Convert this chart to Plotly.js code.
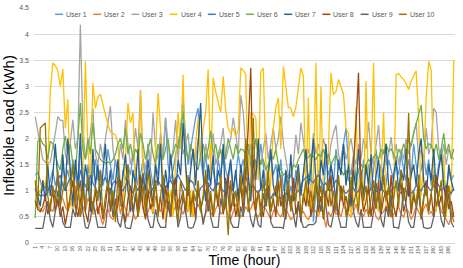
<!DOCTYPE html>
<html>
<head>
<meta charset="utf-8">
<script src="https://cdn.plot.ly/plotly-3.0.1.min.js"></script>
<style>html,body{margin:0;padding:0;background:#fff;}#chart{width:463px;height:268px;}</style>
</head>
<body>
<div id="chart"></div>
<script>
var seriesNames = ["User 1","User 2","User 3","User 4","User 5","User 6","User 7","User 8","User 9","User 10"];
var seriesColors = ["#5B9BD5","#ED7D31","#A5A5A5","#FFC000","#4472C4","#70AD47","#255E91","#9E480E","#636363","#997300"];
var xTickLabels = [1,4,7,10,13,16,19,22,25,28,31,34,37,40,43,46,49,52,55,58,61,64,67,70,73,76,79,82,85,88,91,94,97,100,103,106,109,112,115,118,121,124,127,130,133,136,139,142,145,148,151,154,157,160,163,166];
var yTickLabels = [0,0.5,1,1.5,2,2.5,3,3.5,4,4.5];

var user1 = [1.3,1.35,1.2,1.0,1.1,0.95,1.2,1.4,1.1,1.3,1.0,1.5,
 1.2,1.4,1.1,1.6,1.3,1.0,1.8,1.4,0.6,1.5,1.1,1.3,
 1.6,1.2,1.4,1.1,1.3,1.8,1.5,1.2,1.6,1.3,0.7,1.4,
 1.2,1.5,1.3,1.7,1.4,1.1,1.3,1.6,1.2,1.9,1.4,1.1,
 1.5,1.3,2.1,1.6,2.4,1.5,1.2,1.4,1.7,1.9,2.2,2.78,
 2.0,1.5,1.8,2.1,2.4,2.58,1.6,1.3,1.7,1.2,1.5,1.4,
 1.1,1.6,1.3,1.8,1.4,1.2,1.5,1.0,1.3,1.7,1.4,1.6,
 1.3,1.8,1.5,1.2,1.6,1.4,1.9,1.5,1.1,1.4,1.7,1.3,
 1.5,1.2,1.6,1.0,1.3,0.8,1.1,0.9,1.4,1.2,1.0,1.3,
 1.5,1.1,1.7,0.4,1.0,1.4,1.2,0.9,1.6,1.3,1.5,1.1,
 1.8,1.4,1.6,1.9,2.2,1.5,1.3,1.7,1.2,1.4,1.1,1.6,
 1.3,1.5,1.0,1.4,1.8,1.2,1.5,1.3,1.1,1.6,1.4,1.2,
 1.5,1.3,1.7,1.4,1.2,1.6,1.3,1.9,1.5,1.2,1.4,1.7,
 1.3,1.6,1.1,1.4,1.2,1.5,1.8,1.3,1.0,1.4,1.2,1.3];
var user2 = [0.83,0.7,0.65,0.6,0.7,0.75,0.65,0.6,0.8,0.7,0.9,0.85,
 0.7,0.6,0.75,0.9,1.1,0.65,0.5,0.7,0.6,0.85,0.75,0.55,
 0.6,0.7,0.5,0.35,0.55,0.65,0.5,0.45,0.6,0.9,0.55,0.8,
 0.65,0.5,0.7,0.6,0.45,0.55,1.0,0.65,0.5,0.6,0.75,0.55,
 0.9,0.7,0.6,0.8,0.65,0.75,0.5,0.6,0.7,0.85,0.65,0.55,
 0.7,0.6,0.8,0.5,0.65,0.75,0.6,0.45,0.55,0.7,0.6,0.5,
 0.65,0.75,0.55,0.6,0.7,0.5,0.45,0.6,0.75,0.65,0.5,0.55,
 0.7,0.6,0.65,0.8,0.55,0.5,0.6,0.7,0.65,0.55,0.45,0.6,
 0.7,0.55,0.5,0.6,0.65,0.55,0.45,0.5,0.6,0.7,0.55,0.6,
 0.5,0.45,0.55,0.65,0.6,0.5,0.7,0.55,0.3,0.6,0.5,0.65,
 0.55,0.6,0.5,0.7,0.65,0.55,0.5,0.6,0.75,0.55,0.6,0.5,
 0.65,0.55,0.6,0.7,0.5,0.45,0.55,0.6,0.7,0.65,0.5,0.55,
 0.6,0.7,0.55,0.5,0.65,0.6,0.45,0.55,0.7,0.6,0.5,0.65,
 0.75,0.55,0.6,0.5,0.7,0.8,0.6,0.55,0.45,0.35,0.5,0.6];
var user3 = [2.42,2.17,1.9,1.6,1.55,1.52,1.55,1.8,2.1,2.42,2.35,2.35,
 1.7,1.5,1.9,2.36,1.8,2.0,4.18,2.2,1.6,1.8,2.1,2.58,
 1.7,1.5,1.9,1.6,2.0,2.3,2.62,1.8,1.5,1.4,1.9,1.6,
 2.36,1.9,1.5,1.7,2.2,1.8,2.93,1.6,1.4,1.9,1.5,2.5,
 1.8,1.6,2.0,1.7,2.4,1.9,1.5,1.8,2.36,1.6,2.1,1.7,
 1.9,2.1,1.5,1.8,1.6,2.0,1.7,1.4,1.9,1.6,1.8,2.1,
 1.5,1.7,1.9,2.2,1.6,1.8,2.0,2.4,2.1,1.7,2.83,2.5,
 1.8,1.5,1.9,1.6,2.0,1.7,1.5,1.8,2.1,1.6,1.9,2.2,
 1.8,2.0,2.42,1.9,1.6,1.3,1.25,1.5,2.07,1.7,2.3,1.9,
 1.6,1.8,1.5,2.1,1.7,1.9,1.6,2.0,1.8,1.5,1.9,2.1,
 2.26,1.7,1.5,1.9,1.6,1.8,2.0,1.7,1.5,1.9,1.6,2.0,
 1.8,2.32,1.7,1.5,1.9,2.26,1.6,1.8,1.5,1.7,2.03,1.6,
 1.9,1.5,1.8,1.6,2.0,1.7,1.9,2.1,2.3,1.6,1.8,1.5,
 2.2,1.7,1.9,2.58,2.5,1.8,1.6,1.9,1.5,1.8,1.7,1.6];
var user4 = [1.15,1.05,0.95,1.2,1.1,1.5,2.9,3.45,3.4,3.3,3.0,3.33,
 2.2,2.75,0.9,0.6,0.8,1.1,0.7,1.4,3.48,1.8,1.2,3.06,
 2.58,2.8,2.85,2.65,2.45,2.27,2.13,2.1,2.07,1.9,1.1,0.8,
 1.6,2.68,2.3,2.49,1.0,0.6,2.9,1.2,0.5,0.9,1.3,0.6,
 1.8,2.87,2.2,1.1,0.4,0.7,1.0,0.5,1.5,2.5,1.8,3.22,
 1.4,0.6,1.0,0.5,1.9,2.4,1.6,2.2,2.5,3.32,1.3,3.16,
 2.9,2.7,2.5,3.19,2.55,2.2,2.1,2.2,2.05,2.15,3.35,3.3,
 3.23,1.0,2.5,2.46,2.4,1.2,3.29,3.35,1.6,0.7,1.2,2.2,
 2.6,2.78,1.8,3.38,2.99,2.6,2.58,2.42,2.6,3.0,3.35,3.2,
 0.8,2.78,0.6,1.2,3.45,0.5,3.0,0.9,0.7,1.8,3.26,2.84,
 2.9,3.13,3.0,2.85,2.2,2.1,0.5,1.1,2.6,0.7,1.3,0.6,
 3.1,0.9,1.5,3.45,0.8,0.6,1.2,2.5,0.7,0.5,1.0,0.8,
 3.22,3.25,3.18,3.13,3.05,2.94,3.1,3.2,3.3,2.4,0.9,1.5,
 2.8,3.48,3.3,1.2,0.6,1.0,0.8,1.7,0.5,1.1,0.9,3.51];
var user5 = [1.02,0.95,0.9,0.92,0.88,1.0,1.1,1.05,0.95,1.2,1.3,1.1,
 1.0,1.15,1.25,1.1,0.95,1.05,1.4,1.2,1.1,1.0,1.3,1.15,
 1.05,0.95,1.1,1.2,1.25,1.1,1.0,1.15,1.2,1.1,1.05,1.0,
 1.1,1.2,1.05,0.95,1.1,1.0,1.15,1.25,1.1,1.0,0.95,1.05,
 1.15,1.2,1.1,1.0,1.05,1.15,1.2,1.1,1.25,1.3,1.2,1.1,
 1.0,1.1,1.2,1.15,1.0,0.95,1.05,1.1,1.2,1.15,1.05,1.0,
 1.1,1.15,1.05,1.0,0.95,1.05,1.1,1.0,0.9,1.0,1.1,1.2,
 1.25,1.15,1.05,1.1,1.0,0.95,1.05,1.1,1.0,0.9,0.85,0.95,
 0.9,0.88,0.85,0.9,0.95,0.87,0.9,0.85,0.95,1.0,1.1,1.2,
 1.25,1.3,1.2,1.15,1.25,1.3,1.2,1.1,1.15,1.05,1.0,1.1,
 1.2,1.15,1.05,1.0,0.95,1.0,1.1,1.05,0.95,1.0,1.1,1.05,
 1.0,0.95,1.05,1.1,1.0,0.95,1.05,1.0,0.9,0.95,1.0,1.05,
 1.1,1.0,0.95,1.05,1.0,0.9,0.95,1.0,1.1,1.05,1.0,1.1,
 1.15,1.05,1.0,1.1,1.2,1.1,1.0,1.05,1.1,1.0,0.95,1.05];
var user6 = [0.48,1.94,2.0,1.9,1.85,1.6,1.95,1.9,1.7,1.5,1.4,1.8,
 2.05,1.7,1.9,1.5,1.3,2.1,2.68,1.8,1.6,2.0,1.7,2.3,
 1.8,1.7,1.6,1.55,1.53,1.55,1.52,1.6,1.7,1.9,2.0,1.8,
 2.2,1.7,1.9,1.6,1.8,1.7,2.1,1.9,1.6,1.8,2.0,1.7,
 1.5,1.9,1.7,1.6,1.8,2.0,1.6,1.7,1.9,1.8,2.1,2.52,
 1.8,1.6,1.9,1.7,1.5,1.4,1.7,1.9,1.6,1.8,2.15,1.7,
 1.9,1.6,1.8,1.5,1.7,2.0,1.8,1.6,1.9,1.7,1.8,1.78,
 1.7,1.9,1.6,1.8,2.0,1.7,1.5,1.6,1.4,1.5,1.7,1.6,
 1.8,1.5,1.4,1.3,1.35,1.24,1.3,1.5,1.45,1.6,1.7,1.8,
 1.6,1.65,1.7,1.65,1.6,1.7,1.65,1.8,1.6,1.7,1.5,1.6,
 1.7,1.5,1.4,1.3,1.4,1.2,1.25,1.2,1.3,1.4,1.5,1.45,
 1.5,1.6,1.55,1.65,1.7,1.6,1.8,1.7,1.9,1.75,1.8,1.7,
 1.6,1.8,1.7,1.9,1.75,2.0,1.85,2.1,2.3,2.45,2.64,2.0,
 1.8,1.9,1.88,1.7,1.9,1.6,1.8,2.1,1.7,1.9,1.6,1.8];
var user7 = [1.05,0.9,0.7,1.2,0.8,1.5,0.9,1.3,1.9,1.2,0.8,1.7,
 1.0,2.0,1.4,0.7,1.6,1.1,2.1,0.9,1.5,1.2,0.6,1.8,
 1.1,1.5,0.8,1.3,1.9,1.0,1.4,0.7,1.2,1.6,0.9,1.3,
 1.7,1.0,0.6,1.4,1.1,1.8,0.8,1.3,1.0,1.6,1.2,0.7,
 1.5,1.1,1.9,0.8,1.4,1.0,1.7,1.2,0.9,1.6,1.3,2.3,
 1.5,0.9,1.4,1.8,1.1,2.0,2.68,1.3,0.8,1.5,1.1,1.7,
 0.9,1.4,1.2,1.9,0.7,1.3,1.6,1.0,1.4,0.8,1.5,1.1,
 1.9,1.3,0.8,1.6,1.2,2.0,1.0,1.4,0.7,1.3,1.8,1.1,
 0.9,1.5,1.2,0.6,1.4,1.0,1.7,0.8,1.2,1.5,0.9,1.3,
 1.8,1.1,1.4,2.0,1.2,0.8,1.6,1.3,1.9,1.0,1.5,1.2,
 0.8,1.6,1.3,1.9,1.1,1.5,0.7,1.4,1.0,1.8,1.2,0.9,
 1.5,1.1,1.7,0.8,1.3,1.6,1.0,1.4,1.9,1.1,0.7,1.3,
 1.6,1.0,1.4,1.2,1.8,0.9,1.3,1.5,1.1,1.7,2.0,1.2,
 0.9,1.5,1.2,1.8,1.0,1.4,1.7,1.1,0.8,1.5,1.2,1.0];
var user8 = [0.8,0.65,0.6,0.7,0.9,0.55,0.75,1.0,0.6,0.85,0.5,0.7,
 0.35,0.6,0.9,1.2,0.7,0.5,0.8,1.1,0.6,0.4,0.9,0.7,
 1.0,0.55,0.8,0.45,0.7,1.15,0.6,0.9,0.5,0.75,1.2,0.65,
 0.4,0.85,1.1,0.6,0.9,0.5,1.3,0.7,0.45,1.0,0.65,0.8,
 1.2,0.6,0.9,0.45,1.1,0.7,0.5,0.95,1.25,0.6,0.8,1.0,
 0.55,1.2,0.7,0.9,0.45,1.1,0.65,0.85,1.3,0.6,0.9,0.5,
 1.0,0.7,1.2,0.55,0.85,1.3,0.6,0.95,0.5,0.8,1.1,0.6,
 1.4,2.2,3.35,0.9,0.6,1.0,0.7,0.5,0.9,1.1,0.6,0.85,
 0.5,1.2,0.7,0.9,0.45,1.0,0.65,1.25,0.55,0.8,0.4,0.95,
 0.7,1.1,0.5,0.85,1.2,0.6,0.9,0.45,1.0,0.7,1.3,0.6,
 0.85,0.5,1.1,0.7,0.9,0.6,1.0,1.5,2.3,3.26,1.0,0.6,
 0.8,1.1,0.5,0.9,0.65,1.2,0.55,0.85,1.0,0.6,1.3,0.7,
 0.5,0.9,1.15,0.6,0.8,1.25,0.55,0.9,0.7,1.1,0.45,0.8,
 1.2,0.6,0.95,0.5,1.3,0.7,0.9,0.55,1.1,0.65,0.8,0.5];
var user9 = [0.28,0.28,0.28,0.28,0.55,0.8,0.45,0.3,0.6,1.0,0.7,0.4,
 0.3,0.3,0.3,0.65,0.5,0.9,1.2,0.6,0.3,0.28,0.45,0.8,
 0.55,0.3,0.3,0.3,0.3,0.75,1.05,0.5,0.85,0.4,0.3,0.6,
 0.3,0.28,0.28,0.5,0.95,0.7,1.1,1.34,0.9,0.45,0.3,0.3,
 0.65,0.4,0.3,0.3,0.3,0.8,0.55,1.2,0.7,0.3,0.5,0.9,
 0.6,0.3,0.28,0.3,0.45,1.0,0.75,0.35,0.6,1.15,0.5,0.3,
 0.3,0.3,0.85,0.6,1.25,0.9,0.4,0.3,0.3,0.3,0.7,0.5,
 1.1,0.8,0.45,0.3,0.6,0.35,0.3,0.95,0.7,1.0,0.4,0.3,
 0.3,0.3,0.3,0.28,0.6,1.05,0.8,0.5,0.3,0.75,0.45,0.3,
 0.3,0.35,0.35,0.35,0.4,0.9,0.6,1.1,0.7,0.35,0.3,0.55,
 0.95,0.5,0.3,0.3,0.3,0.8,1.2,0.6,0.4,0.3,0.65,0.3,
 0.3,0.3,0.3,0.6,1.15,0.85,0.45,0.3,0.7,0.5,0.9,0.3,
 0.3,0.28,0.55,1.05,0.75,0.4,0.3,0.3,0.65,0.95,0.6,0.3,
 0.28,0.28,0.3,0.5,1.1,0.8,0.45,0.3,0.7,0.95,0.4,0.3];
var user10 = [1.2,0.7,2.2,2.26,2.3,0.9,0.6,1.1,0.8,1.4,0.7,1.0,
 1.3,0.6,0.9,1.5,0.8,1.2,0.5,1.0,0.7,1.3,0.9,0.6,
 1.1,0.8,1.4,0.5,0.9,1.2,0.7,1.0,0.4,1.3,0.8,0.6,
 1.0,1.5,0.7,0.9,1.2,0.5,0.8,1.1,0.6,1.4,0.9,0.7,
 1.2,0.5,0.9,1.3,0.7,1.0,0.6,1.1,0.8,0.4,1.2,0.9,
 0.7,1.3,0.5,1.0,0.8,1.2,0.6,0.9,1.4,0.7,1.0,0.5,
 1.1,0.8,1.3,0.6,0.9,0.15,1.2,0.7,1.0,0.5,1.3,0.8,
 2.0,0.6,1.1,2.4,0.7,1.0,0.5,1.2,0.8,1.4,0.6,0.9,
 1.1,0.7,1.3,0.5,0.9,1.2,0.6,1.0,0.8,1.4,0.5,0.9,
 1.2,0.7,1.0,0.6,1.3,0.8,1.1,0.5,0.9,1.2,0.7,1.0,
 0.6,1.3,0.8,1.1,0.5,0.9,1.2,0.7,1.0,0.6,1.4,0.8,
 1.1,0.5,0.9,1.2,0.7,1.0,0.6,1.3,0.8,1.1,0.5,0.9,
 1.2,0.7,1.4,0.8,1.1,2.49,0.6,1.0,0.7,1.3,0.5,0.9,
 1.1,0.6,1.0,1.3,0.7,0.9,1.2,0.5,0.8,1.1,0.6,0.4];

var allSeries = [user1,user2,user3,user4,user5,user6,user7,user8,user9,user10];
var hours = user1.map(function(_, i){ return i + 1; });

var traces = allSeries.map(function(vals, i){
  return {
    type: 'scatter', mode: 'lines', name: seriesNames[i],
    x: hours, y: vals,
    line: {color: seriesColors[i], width: 1.3},
    hoverinfo: 'skip'
  };
});

// pixel geometry of plot area
var W = 463, H = 268, L = 34, R = 8, T = 8, B = 25;
var pw = W - L - R, ph = H - T - B;
function px2x(p){ return (p - L) / pw; }
function py2y(p){ return (H - B - p) / ph; }

var shapes = [], annotations = [];
var legY = 14.3;
seriesNames.forEach(function(n, i){
  var lx = 55 + i * 38.2;
  shapes.push({type:'line', xref:'paper', yref:'paper',
    x0: px2x(lx), x1: px2x(lx + 8), y0: py2y(legY), y1: py2y(legY),
    line:{color: seriesColors[i], width: 1.5}});
  annotations.push({xref:'paper', yref:'paper', x: px2x(lx + 9), y: py2y(legY),
    xanchor:'left', yanchor:'middle', showarrow:false, text: n,
    font:{family:'Liberation Sans, Arial, sans-serif', size:7, color:'#595959'}});
});

var layout = {
  width: W, height: H,
  margin: {l: L, r: R, t: T, b: B, pad: 0},
  paper_bgcolor: '#ffffff', plot_bgcolor: '#ffffff',
  showlegend: false,
  font: {family: 'Liberation Sans, Arial, sans-serif', color: '#595959'},
  xaxis: {
    range: [0.5, 168.5], showgrid: false, zeroline: false,
    showline: false, ticks: '',
    tickmode: 'array', tickvals: xTickLabels, ticktext: xTickLabels.map(String),
    tickangle: -90, tickfont: {size: 5, color: '#595959'},
    ticklabelstandoff: 1,
    title: {text: 'Time (hour)', font: {size: 14, color: '#000000'}, standoff: 1},
    automargin: false, fixedrange: true
  },
  yaxis: {
    range: [0, 4.5], tickmode: 'array', tickvals: yTickLabels,
    ticktext: yTickLabels.map(String),
    showgrid: true, gridcolor: '#d9d9d9', gridwidth: 1,
    zeroline: true, zerolinecolor: '#d9d9d9', zerolinewidth: 1,
    showline: false, ticks: '',
    tickfont: {size: 7, color: '#595959'},
    ticklabelstandoff: 4,
    title: {text: 'Inflexible Load (kWh)', font: {size: 15, color: '#000000'}, standoff: 2},
    automargin: false, fixedrange: true
  },
  shapes: shapes,
  annotations: annotations
};

Plotly.newPlot('chart', traces, layout, {displayModeBar: false, staticPlot: true});
</script>
</body>
</html>
